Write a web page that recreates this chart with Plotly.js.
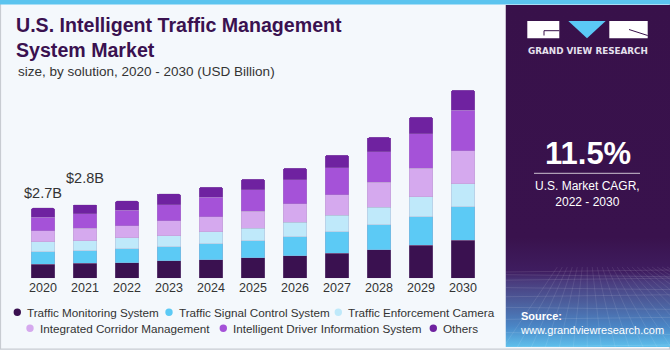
<!DOCTYPE html>
<html>
<head>
<meta charset="utf-8">
<script src="https://cdn.plot.ly/plotly-3.0.1.min.js"></script>
<style>
  html, body { margin: 0; padding: 0; background: #f4f8fc; }
  #chart { width: 670px; height: 350px; }
</style>
</head>
<body>
<div id="chart"></div>
<script>
// ---------------- DATA ----------------
const years = ['2020','2021','2022','2023','2024','2025','2026','2027','2028','2029','2030'];
const seriesNames = [
  'Traffic Monitoring System',
  'Traffic Signal Control System',
  'Traffic Enforcement Camera',
  'Integrated Corridor Management',
  'Intelligent Driver Information System',
  'Others'
];
const trafficMonitoring   = [0.54, 0.58, 0.60, 0.67, 0.72, 0.78, 0.87, 0.97, 1.10, 1.27, 1.47];
const trafficSignal       = [0.48, 0.48, 0.53, 0.55, 0.60, 0.67, 0.73, 0.82, 0.95, 1.09, 1.28];
const trafficEnforcement  = [0.38, 0.38, 0.42, 0.42, 0.46, 0.48, 0.55, 0.63, 0.68, 0.77, 0.88];
const integratedCorridor  = [0.42, 0.48, 0.46, 0.57, 0.58, 0.65, 0.72, 0.78, 0.96, 1.10, 1.26];
const intelligentDriver   = [0.53, 0.55, 0.60, 0.62, 0.76, 0.82, 0.91, 1.05, 1.17, 1.32, 1.57];
const others              = [0.35, 0.36, 0.36, 0.41, 0.38, 0.41, 0.45, 0.48, 0.55, 0.64, 0.77];
const valueLabelYears = ['2020', '2021'];
const valueLabelTexts = ['$2.7B', '$2.8B'];
const cagrValue = '11.5%';
const cagrText = 'U.S. Market CAGR,<br>2022 - 2030';

// ---------------- STYLE ----------------
const seriesValues = [trafficMonitoring, trafficSignal, trafficEnforcement, integratedCorridor, intelligentDriver, others];
const colors = ['#3a1150', '#5ccaf5', '#bfe9fa', '#d5a9ee', '#a552d8', '#6f22a0'];
const W = 670, H = 350;
const X = p => p / W;
const Y = p => 1 - p / H;
const FONT = 'Liberation Sans, Arial, sans-serif';
const TXT = '#333333';
const PURPLE = '#38114a';

const traces = seriesValues.map((vals, i) => ({
  type: 'bar',
  name: seriesNames[i],
  x: years,
  y: vals,
  marker: { color: colors[i], line: { color: 'rgba(170,150,190,0.45)', width: 0.6 } },
  showlegend: false,
  hoverinfo: 'x+y+name'
}));

const totals = years.map((_, j) => seriesValues.reduce((s, arr) => s + arr[j], 0));

// ---------------- ANNOTATIONS ----------------
const annotations = [];
annotations.push({
  xref: 'paper', yref: 'paper', x: X(16), y: Y(71), xanchor: 'left', yanchor: 'middle',
  text: 'size, by solution, 2020 - 2030 (USD Billion)', showarrow: false,
  font: { family: FONT, size: 13.5, color: TXT }
});
const labelShift = [14, 26];
valueLabelYears.forEach((yr, k) => {
  const j = years.indexOf(yr);
  annotations.push({
    xref: 'x', yref: 'y', x: j, y: totals[j], yanchor: 'bottom', xanchor: 'center',
    yshift: labelShift[k] - 9, text: valueLabelTexts[k], showarrow: false,
    font: { family: FONT, size: 14.5, color: TXT }
  });
});
// legend (custom, two centred rows)
const legendPos = [[17.3, 312.3], [169, 312.3], [338.3, 312.3], [30, 328.3], [223.3, 328.3], [433.3, 328.3]];
const shapes = [];
seriesNames.forEach((nm, i) => {
  const [cx, cy] = legendPos[i];
  shapes.push({ type: 'circle', xref: 'paper', yref: 'paper',
    x0: X(cx - 3.7), x1: X(cx + 3.7), y0: Y(cy + 3.7), y1: Y(cy - 3.7),
    fillcolor: colors[i], line: { width: 0 } });
  annotations.push({ xref: 'paper', yref: 'paper', x: X(cx + 8), y: Y(cy), xanchor: 'left', yanchor: 'middle',
    text: nm, showarrow: false, font: { family: FONT, size: 11.7, color: TXT } });
});

// right panel texts
annotations.push({ xref: 'paper', yref: 'paper', x: X(587.5), y: Y(51), xanchor: 'center', yanchor: 'middle',
  text: 'GRAND VIEW RESEARCH', showarrow: false,
  font: { family: 'DejaVu Sans, sans-serif', size: 8.8, color: '#e6e1ee', weight: 'bold' } });
annotations.push({ xref: 'paper', yref: 'paper', x: X(588), y: Y(154), xanchor: 'center', yanchor: 'middle',
  text: cagrValue, showarrow: false,
  font: { family: FONT, size: 31, color: '#ffffff', weight: 'bold' } });
annotations.push({ xref: 'paper', yref: 'paper', x: X(587.5), y: Y(193.5), xanchor: 'center', yanchor: 'middle',
  text: cagrText, showarrow: false,
  font: { family: FONT, size: 12, color: '#ffffff' } });
annotations.push({ xref: 'paper', yref: 'paper', x: X(518), y: Y(322.5), xanchor: 'left', yanchor: 'middle',
  align: 'left',
  text: '<b>Source:</b><br>www.grandviewresearch.com', showarrow: false,
  font: { family: FONT, size: 11, color: '#ffffff' } });

// frame, top strip, panel decorations
shapes.push({ type: 'rect', xref: 'paper', yref: 'paper', x0: X(0.5), x1: X(669.5), y0: Y(349.2), y1: Y(0),
  line: { color: '#c8ccd2', width: 1.2 }, fillcolor: 'rgba(0,0,0,0)', layer: 'below' });
shapes.push({ type: 'rect', xref: 'paper', yref: 'paper', x0: 0, x1: 1, y0: Y(4.5), y1: 1,
  line: { width: 0 }, fillcolor: '#5bc4ef' });
// logo
shapes.push({ type: 'rect', xref: 'paper', yref: 'paper', x0: X(527.3), x1: X(559.3), y0: Y(38.3), y1: Y(21),
  line: { width: 0 }, fillcolor: '#ffffff' });
shapes.push({ type: 'path', xref: 'paper', yref: 'paper',
  path: `M${X(544)},${Y(35.5)} L${X(544)},${Y(30.7)} L${X(559.3)},${Y(30.7)}`,
  line: { color: PURPLE, width: 1 } });
shapes.push({ type: 'path', xref: 'paper', yref: 'paper',
  path: `M${X(568.3)},${Y(21)} L${X(605.7)},${Y(21)} L${X(587)},${Y(38.3)} Z`,
  line: { width: 0 }, fillcolor: '#5bc8f5' });
shapes.push({ type: 'rect', xref: 'paper', yref: 'paper', x0: X(609.3), x1: X(647.7), y0: Y(38.3), y1: Y(21),
  line: { width: 0 }, fillcolor: '#ffffff' });
shapes.push({ type: 'path', xref: 'paper', yref: 'paper',
  path: `M${X(629)},${Y(29.5)} L${X(647.7)},${Y(35.5)}`,
  line: { color: PURPLE, width: 1 } });
// CAGR underline
shapes.push({ type: 'line', xref: 'paper', yref: 'paper', x0: X(534), x1: X(640), y0: Y(173.3), y1: Y(173.3),
  line: { color: 'rgba(255,255,255,0.75)', width: 1 } });

// panel background gradient (decorative SVG)
let grid = '';
for (let k = 0; k < 9; k++) {
  const yy = 272 + Math.pow(k / 8, 1.6) * 75;
  grid += `<line x1="0" y1="${yy - 5}" x2="165" y2="${yy - 5 + (k % 2 ? 2 : -2)}" stroke="#ffffff" stroke-opacity="0.14" stroke-width="0.8"/>`;
}
for (let k = -6; k <= 18; k++) {
  const xt = 82 + k * 5, xb = 82 + k * 14;
  grid += `<line x1="${xt}" y1="262" x2="${xb}" y2="342" stroke="#ffffff" stroke-opacity="0.12" stroke-width="0.8"/>`;
}
const panelSvg = `<svg xmlns="http://www.w3.org/2000/svg" width="165" height="342" viewBox="0 0 165 342">
<defs><linearGradient id="g" x1="0" y1="0" x2="0" y2="1">
<stop offset="0" stop-color="#38114a"/>
<stop offset="0.68" stop-color="#39124d"/>
<stop offset="0.78" stop-color="#3f1d60"/>
<stop offset="0.81" stop-color="#4a3c7e"/>
<stop offset="0.87" stop-color="#4c5e9c"/>
<stop offset="0.94" stop-color="#4a86c6"/>
<stop offset="1" stop-color="#5fc0ec"/>
</linearGradient></defs>
<rect width="165" height="342" fill="url(#g)"/>${grid}</svg>`;

const layout = {
  width: W, height: H, autosize: false,
  margin: { l: 0, r: 0, t: 0, b: 0, pad: 0 },
  paper_bgcolor: '#f4f8fc', plot_bgcolor: 'rgba(0,0,0,0)',
  barmode: 'stack', bargap: 0.43, barcornerradius: 2,
  font: { family: FONT, color: TXT },
  title: {
    text: 'U.S. Intelligent Traffic Management<br>System Market',
    xref: 'container', yref: 'container', x: X(16), y: Y(32), xanchor: 'left', yanchor: 'top',
    font: { family: FONT, size: 19.6, color: '#3a1150', weight: 'bold' }
  },
  xaxis: {
    domain: [X(22), X(484)], type: 'category', range: [-0.5, 10.5],
    showgrid: false, zeroline: false, showline: false, ticks: '', automargin: false,
    tickfont: { family: FONT, size: 12.5, color: TXT }, fixedrange: true
  },
  yaxis: {
    domain: [Y(278.3), Y(80)], range: [0, 198.3 / 26.04], fixedrange: true,
    showgrid: false, zeroline: false, showline: false, ticks: '', showticklabels: false,
    automargin: false
  },
  showlegend: false,
  annotations: annotations,
  shapes: shapes,
  images: [{
    source: 'data:image/svg+xml;charset=utf-8,' + encodeURIComponent(panelSvg),
    xref: 'paper', yref: 'paper', x: X(505.5), y: Y(5), sizex: (670 - 505.5) / W, sizey: 342 / H,
    xanchor: 'left', yanchor: 'top', sizing: 'stretch', layer: 'above'
  }]
};

Plotly.newPlot('chart', traces, layout, { displayModeBar: false, staticPlot: true });
</script>
</body>
</html>
